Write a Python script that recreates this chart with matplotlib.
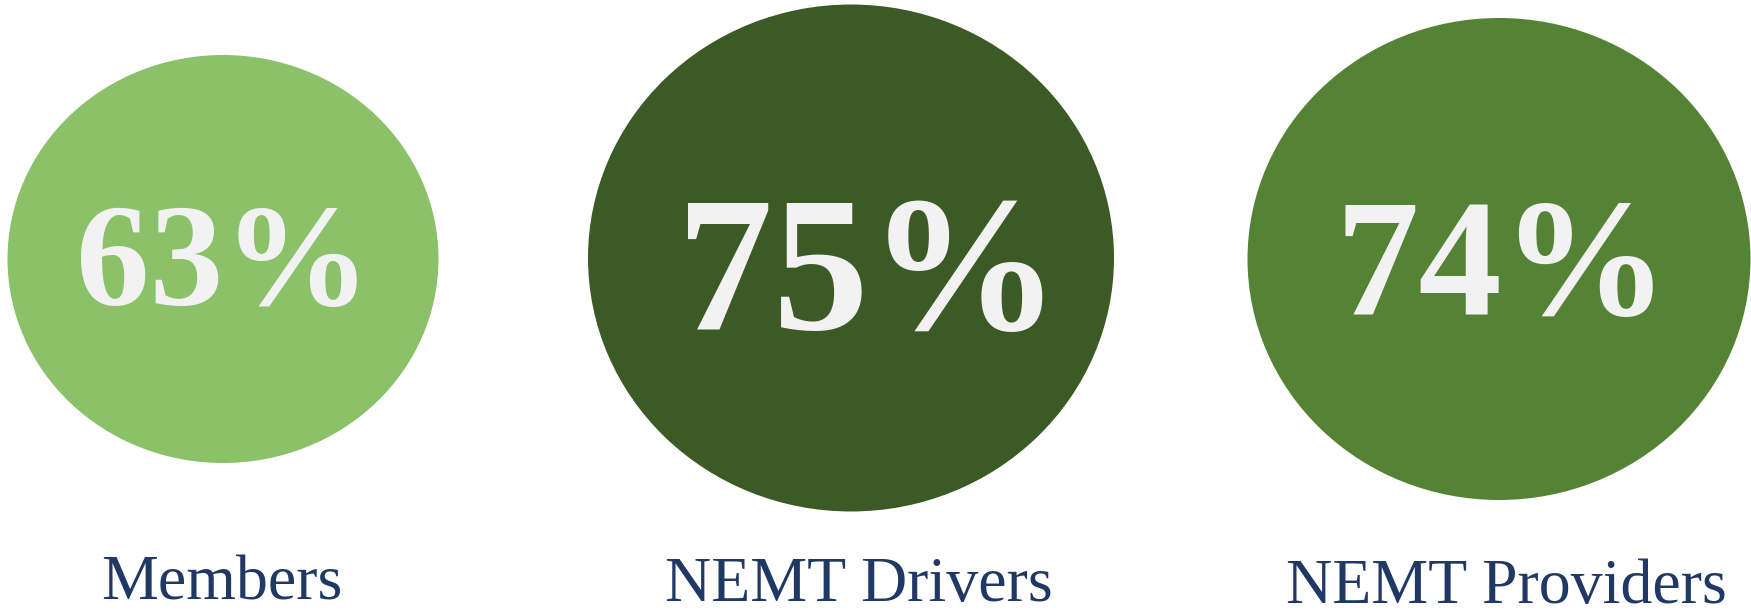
import matplotlib.pyplot as plt
from matplotlib.patches import Ellipse
from matplotlib.font_manager import FontProperties

# data
groups = ["Members", "NEMT Drivers", "NEMT Providers"]
shares = [63, 75, 74]
fills = ["#8BC168", "#3B5A25", "#548336"]

# layout (pixel coords, y grows downward)
cx = [223, 851, 1499]
cy = [259, 258, 259]
widths = [431, 526, 503]
heights = [408, 507, 482]
num_x = [223, 869, 1502]
num_base = [305, 329, 315]
num_size = [106, 138, 120]
lab_x = [222, 859, 1506]
lab_base = [600, 601, 603]

bold = FontProperties(family="Liberation Serif", weight="bold")
regular = FontProperties(family="Liberation Serif", weight="normal")

fig = plt.figure(figsize=(17.51, 6.14), dpi=100)
ax = fig.add_axes([0, 0, 1, 1])
ax.set_xlim(0, 1751)
ax.set_ylim(614, 0)
ax.axis("off")

for i in range(len(groups)):
    ax.add_patch(Ellipse((cx[i], cy[i]), widths[i], heights[i],
                         facecolor=fills[i], edgecolor="none"))
    ax.text(num_x[i], num_base[i], f"{shares[i]}%", ha="center", va="baseline",
            fontproperties=bold, fontsize=num_size[i], color="#F2F2F2")
    ax.text(lab_x[i], lab_base[i], groups[i], ha="center", va="baseline",
            fontproperties=regular, fontsize=46, color="#1F3864")

fig.savefig("out.png", dpi=100)
